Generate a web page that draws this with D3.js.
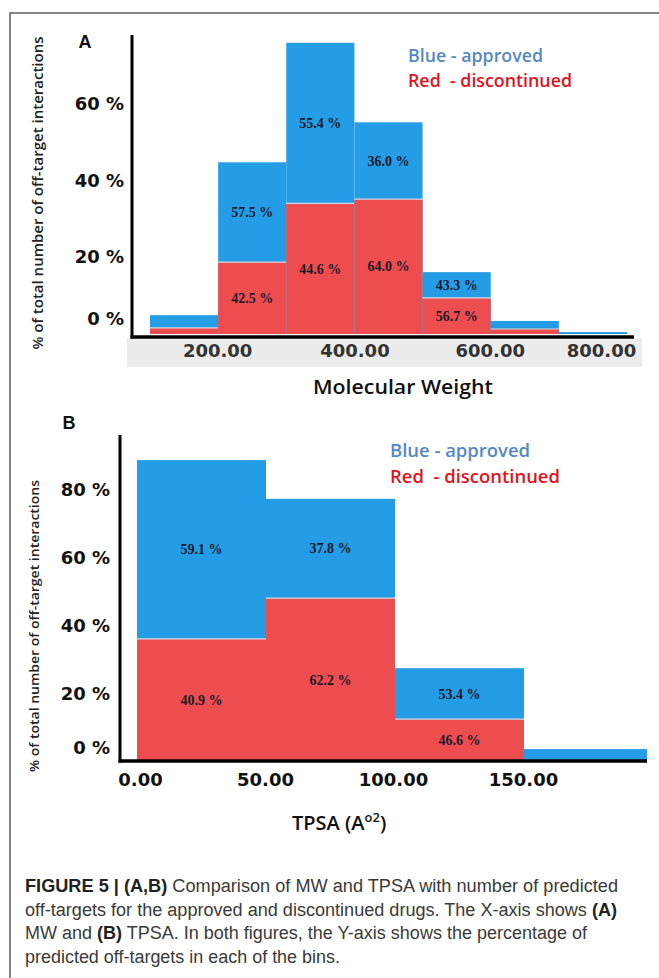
<!DOCTYPE html>
<html>
<head>
<meta charset="utf-8">
<script src="https://cdn.jsdelivr.net/npm/d3@7"></script>
<style>
html,body{margin:0;padding:0;background:#fff;}
svg{display:block;}
</style>
</head>
<body>
<svg id="chart" width="659" height="978"></svg>
<script>
// ---------- DATA ----------
// Panel A: Molecular Weight bins (bin start, width 100)
const mwBins = [100, 200, 300, 400, 500, 600, 700];
const mwApproved = [3.3, 26.0, 41.8, 20.0, 6.7, 2.1, 0.5];
const mwDiscontinued = [1.6, 18.7, 34.0, 35.1, 9.4, 1.3, 0];
const mwApprovedLabels = ["", "57.5 %", "55.4 %", "36.0 %", "43.3 %", "", ""];
const mwDiscontinuedLabels = ["", "42.5 %", "44.6 %", "64.0 %", "56.7 %", "", ""];
const mwXTicks = [200, 400, 600, 800];
const mwYTicks = [0, 20, 40, 60];

// Panel B: TPSA bins (bin start, width 50)
const tpsaBins = [0, 50, 100, 150];
const tpsaApproved = [52.6, 29.2, 15.0, 3.3];
const tpsaDiscontinued = [36.2, 48.2, 12.6, 0.5];
const tpsaApprovedLabels = ["59.1 %", "37.8 %", "53.4 %", ""];
const tpsaDiscontinuedLabels = ["40.9 %", "62.2 %", "46.6 %", ""];
const tpsaXTicks = [0, 50, 100, 150];
const tpsaYTicks = [0, 20, 40, 60, 80];

const legendLines = ["Blue - approved", "Red  - discontinued"];
const yTitle = "% of total number of off-target interactions";

// ---------- STYLE ----------
const BLUE = "#249de6", RED = "#ee4d50";
const svg = d3.select("#chart");

// frame
svg.append("rect").attr("x", 10).attr("y", 13).attr("width", 720).attr("height", 1000)
  .attr("fill", "none").attr("stroke", "#5e5e5e").attr("stroke-width", 1.5);

function panel(opts) {
  const g = svg.append("g");
  const x = opts.x, y = opts.y;
  const clipId = "clip" + opts.key;
  svg.append("clipPath").attr("id", clipId).append("rect")
    .attr("x", 0).attr("y", 0).attr("width", opts.clipRight).attr("height", 978);

  if (opts.band) {
    g.append("rect").attr("x", opts.band[0]).attr("y", opts.band[1])
      .attr("width", opts.band[2]).attr("height", opts.band[3]).attr("fill", "#ececec");
  }

  const bars = g.append("g").attr("clip-path", `url(#${clipId})`);
  opts.bins.forEach((b, i) => {
    const x0 = x(b), x1 = x(b + opts.binW);
    const d = opts.disc[i], a = opts.appr[i];
    bars.append("rect").attr("x", x0).attr("width", x1 - x0)
      .attr("y", y(d + a)).attr("height", y(0) - y(d + a)).attr("fill", BLUE);
    if (d > 0) {
      bars.append("rect").attr("x", x0).attr("width", x1 - x0)
        .attr("y", y(d)).attr("height", y(0) - y(d)).attr("fill", RED);
      bars.append("line").attr("x1", x0).attr("x2", x1).attr("y1", y(d)).attr("y2", y(d))
        .attr("stroke", "#d4dbe2").attr("stroke-width", 1.2);
    }
    const cx = (x0 + x1) / 2;
    if (opts.apprLab[i]) {
      g.append("text").attr("x", cx).attr("y", (y(d + a) + y(d)) / 2).attr("dy", "0.35em")
        .attr("text-anchor", "middle").attr("font-family", "Liberation Serif")
        .attr("font-weight", "bold").attr("font-size", 14).attr("fill", "#1a1a2a")
        .text(opts.apprLab[i]);
    }
    if (opts.discLab[i]) {
      g.append("text").attr("x", cx).attr("y", (y(d) + y(0)) / 2).attr("dy", "0.35em")
        .attr("text-anchor", "middle").attr("font-family", "Liberation Serif")
        .attr("font-weight", "bold").attr("font-size", 14).attr("fill", "#1a1a2a")
        .text(opts.discLab[i]);
    }
  });

  // axis lines
  g.append("line").attr("x1", opts.axisX).attr("x2", opts.axisX)
    .attr("y1", opts.axisTop).attr("y2", opts.axisY + 1.5)
    .attr("stroke", "#000").attr("stroke-width", 3);
  g.append("line").attr("x1", opts.axisX - 1.5).attr("x2", opts.axisRight)
    .attr("y1", opts.axisY).attr("y2", opts.axisY)
    .attr("stroke", "#000").attr("stroke-width", 3.5);

  // x axis ticks
  const xa = g.append("g").attr("transform", `translate(0,${opts.axisY})`)
    .call(d3.axisBottom(x).tickValues(opts.xTicks).tickFormat(d3.format(".2f")).tickSize(0));
  xa.select(".domain").remove();
  xa.selectAll("text").attr("y", opts.xLabY - opts.axisY).attr("dy", "0.36em")
    .attr("font-family", "DejaVu Sans").attr("font-weight", "bold").attr("font-size", 18)
    .attr("fill", opts.xLabColor)
    .attr("dx", (d, i) => (opts.xLabDx[i] || 0));

  // y axis ticks
  const ya = g.append("g").attr("transform", `translate(${opts.axisX},0)`)
    .call(d3.axisLeft(y).tickValues(opts.yTicks).tickFormat(d => d + " %").tickSize(0).tickPadding(opts.yPad));
  ya.select(".domain").remove();
  ya.selectAll("text").attr("font-family", "DejaVu Sans").attr("font-weight", "bold")
    .attr("font-size", 18).attr("fill", "#111")
    .attr("dy", d => d === 0 ? (0.32 * 18 - opts.zeroLift) + "px" : "0.32em");

  // panel letter
  g.append("text").attr("x", opts.letterX).attr("y", opts.letterY).attr("text-anchor", "middle")
    .attr("font-family", "Liberation Sans").attr("font-weight", "bold").attr("font-size", 18)
    .attr("fill", "#111").text(opts.letter);

  // y title
  g.append("text").attr("transform", `translate(${opts.yTitleX},${opts.yTitleY}) rotate(-90)`)
    .attr("text-anchor", "middle").attr("dy", "0.35em")
    .attr("font-family", "Open Sans").attr("font-weight", 600).attr("font-size", opts.yTitleSize)
    .attr("textLength", opts.yTitleLen).attr("lengthAdjust", "spacingAndGlyphs")
    .attr("fill", "#222").text(yTitle);

  // legend
  const lg = g.append("g").attr("font-family", "Open Sans").attr("font-weight", 600).attr("font-size", 18.5);
  lg.append("text").attr("x", opts.legX).attr("y", opts.legY1).attr("fill", "#5688c6")
    .attr("textLength", opts.legW1).attr("lengthAdjust", "spacingAndGlyphs").text(legendLines[0]);
  lg.append("text").attr("x", opts.legX).attr("y", opts.legY2).attr("fill", "#e1121d")
    .attr("textLength", opts.legW2).attr("lengthAdjust", "spacingAndGlyphs")
    .style("white-space", "pre").text(legendLines[1]);
}

// Panel A
const xA = d3.scaleLinear().domain([100, 800]).range([150, 627]);
const yA = d3.scaleLinear().domain([0, 60]).range([334, 103.5]);
panel({
  key: "A", x: xA, y: yA, bins: mwBins, binW: 100,
  appr: mwApproved, disc: mwDiscontinued, apprLab: mwApprovedLabels, discLab: mwDiscontinuedLabels,
  xTicks: mwXTicks, yTicks: mwYTicks, clipRight: 700,
  band: [127, 338, 515, 29],
  axisX: 132, axisTop: 35, axisY: 337, axisRight: 634,
  xLabY: 351, xLabColor: "#333", xLabDx: [-1, 0, -1, -26], yPad: 8, zeroLift: 15,
  letter: "A", letterX: 85, letterY: 48,
  yTitleX: 38, yTitleY: 193, yTitleSize: 13.5, yTitleLen: 313,
  legX: 408, legY1: 62, legY2: 87, legW1: 135, legW2: 164
});
svg.append("text").attr("x", 403).attr("y", 394).attr("text-anchor", "middle")
  .attr("font-family", "Open Sans").attr("font-weight", 600).attr("font-size", 20)
  .attr("textLength", 180).attr("lengthAdjust", "spacingAndGlyphs")
  .attr("fill", "#111").text("Molecular Weight");

// Panel B
const xB = d3.scaleLinear().domain([0, 200]).range([137, 653]);
const yB = d3.scaleLinear().domain([0, 80]).range([762, 490]);
panel({
  key: "B", x: xB, y: yB, bins: tpsaBins, binW: 50,
  appr: tpsaApproved, disc: tpsaDiscontinued, apprLab: tpsaApprovedLabels, discLab: tpsaDiscontinuedLabels,
  xTicks: tpsaXTicks, yTicks: tpsaYTicks, clipRight: 647,
  band: null,
  axisX: 120, axisTop: 435, axisY: 761, axisRight: 647,
  xLabY: 780, xLabColor: "#111", xLabDx: [3, -1, -2, -1], yPad: 10, zeroLift: 14,
  letter: "B", letterX: 69, letterY: 429,
  yTitleX: 35, yTitleY: 626, yTitleSize: 12.8, yTitleLen: 292,
  legX: 390, legY1: 457, legY2: 483, legW1: 140, legW2: 170
});
const tpsaT = svg.append("text").attr("x", 292).attr("y", 830)
  .attr("font-family", "Open Sans").attr("font-weight", 600).attr("font-size", 20).attr("fill", "#111");
tpsaT.append("tspan").text("TPSA (A");
tpsaT.append("tspan").attr("font-size", 13).attr("dy", -8).text("o2");
tpsaT.append("tspan").attr("dy", 8).text(")");

// Caption
const captionLines = [
  [["FIGURE 5 | (A,B)", true], [" Comparison of MW and TPSA with number of predicted", false]],
  [["off-targets for the approved and discontinued drugs. The X-axis shows ", false], ["(A)", true]],
  [["MW and ", false], ["(B)", true], [" TPSA. In both figures, the Y-axis shows the percentage of", false]],
  [["predicted off-targets in each of the bins.", false]]
];
const captionWidths = [593, 592, 562, 315];
const captionY = [892, 916, 939, 963];
captionLines.forEach((parts, i) => {
  const t = svg.append("text").attr("x", 25).attr("y", captionY[i])
    .attr("font-family", "Liberation Sans").attr("font-size", 18).attr("fill", "#3a3a3a")
    .attr("textLength", captionWidths[i]).attr("lengthAdjust", "spacingAndGlyphs")
    .style("white-space", "pre");
  parts.forEach(([s, b]) => {
    t.append("tspan").attr("font-weight", b ? "bold" : "normal").attr("fill", b ? "#222" : "#3a3a3a").text(s);
  });
});
</script>
</body>
</html>
